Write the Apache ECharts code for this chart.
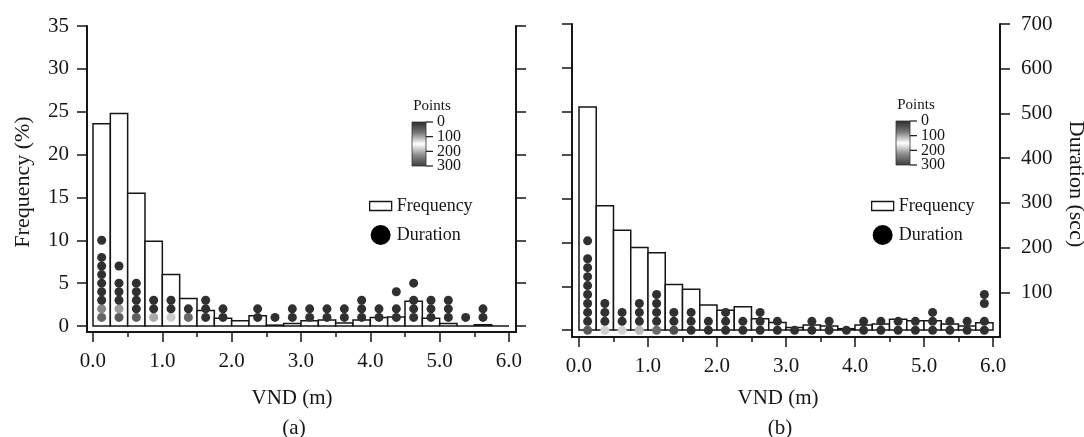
<!DOCTYPE html>
<html>
<head>
<meta charset="utf-8">
<script src="https://cdn.jsdelivr.net/npm/echarts@6/dist/echarts.min.js"></script>
<style>
  html, body { margin: 0; padding: 0; background: #fff; }
  #chart { width: 1084px; height: 437px; }
</style>
</head>
<body>
<div id="chart"></div>
<script>
// VND bins (m), 0.25 m wide
const binEdges = [0, 0.25, 0.5, 0.75, 1, 1.25, 1.5, 1.75, 2, 2.25, 2.5, 2.75, 3,
                  3.25, 3.5, 3.75, 4, 4.25, 4.5, 4.75, 5, 5.25, 5.5, 5.75, 6];

// Frequency (%) per bin
const freqA = [23.6, 24.8, 15.5, 9.9, 6.0, 3.2, 1.8, 0.9, 0.6, 1.2, 0.1, 0.3,
               0.6, 0.7, 0.35, 0.7, 1.0, 1.05, 2.9, 0.9, 0.3, 0, 0.15, 0];
const freqB = [25.5, 14.2, 11.4, 9.45, 8.85, 5.2, 4.65, 2.85, 2.25, 2.65, 1.3, 0.85,
               0.3, 0.57, 0.46, 0.15, 0.57, 0.69, 1.22, 1.07, 1.07, 0.69, 0.46, 0.84];

// Durations (sec) observed in each bin, with their point counts
const durA = [[20,40,60,80,100,120,140,160,200], [20,40,60,80,100,140], [20,40,60,80,100],
              [20,40,60], [20,40,60], [20,40], [20,40,60], [20,40], [], [20,40], [20], [20,40],
              [20,40], [20,40], [20,40], [20,40,60], [20,40], [20,40,80], [20,40,60,100],
              [20,40,60], [20,40,60], [20], [20,40], []];
const ptsA = [[58,84,5,5,5,5,5,5,5], [45,95,5,5,5,5], [50,5,5,5,5],
              [103,5,5], [122,5,5], [58,5], [5,5,5], [5,5], [], [5,5], [5], [5,5],
              [5,5], [5,5], [5,5], [5,5,5], [5,5], [5,5,5], [5,5,5,5],
              [5,5,5], [5,5,5], [5], [5,5], []];

const durB = [[15,35,55,75,95,115,135,155,175,215], [15,35,55,75], [15,35,55],
              [15,35,55,75], [15,35,55,75,95], [15,35,55], [15,35,55], [15,35], [15,35,55],
              [15,35], [15,35,55], [15,35], [15], [15,35], [15,35], [15], [15,35], [15,35],
              [15,35], [15,35], [15,35,55], [15,35], [15,35], [15,35,75,95]];
const ptsB = [[45,5,5,5,5,5,5,5,5,5], [125,5,5,5], [125,5,5],
              [112,5,5,5], [65,5,5,5,5], [35,5,5], [5,5,5], [5,5], [5,5,5],
              [5,5], [5,5,5], [5,5], [5], [5,5], [5,5], [5], [5,5], [5,5],
              [5,5], [5,5], [5,5,5], [5,5], [5,5], [5,5,5,5]];

// Tick labels
const vndTicks = [0, 1, 2, 3, 4, 5, 6];
const vndMinorTicks = [0.5, 1.5, 2.5, 3.5, 4.5, 5.5];
const freqTicks = [0, 5, 10, 15, 20, 25, 30, 35];
const durTicks = [0, 100, 200, 300, 400, 500, 600, 700];
const durLabelTicks = [100, 200, 300, 400, 500, 600, 700];
const pointsTicks = [0, 100, 200, 300];

// Grey ramp for the point counts
const pointsColors = ['#2b2b2b', '#777777', '#ffffff', '#8a8a8a', '#3c3c3c'];

const FONT = 'Liberation Serif';
const INK = '#161616';

function barData(freq) {
  return freq.map((f, i) => [binEdges[i], binEdges[i + 1], f]);
}
function dotData(dur, pts) {
  const out = [];
  dur.forEach((list, i) => {
    const xc = (binEdges[i] + binEdges[i + 1]) / 2;
    list.forEach((d, k) => out.push([xc, d, pts[i][k]]));
  });
  return out;
}
function renderBin(params, api) {
  const p0 = api.coord([api.value(0), api.value(2)]);
  const p1 = api.coord([api.value(1), 0]);
  return {
    type: 'rect',
    shape: { x: p0[0], y: p0[1], width: p1[0] - p0[0], height: p1[1] - p0[1] },
    style: { fill: '#fff', stroke: INK, lineWidth: 1.5 }
  };
}

function xMain(grid, min, max) {
  return {
    gridIndex: grid, type: 'value', min: min, max: max, position: 'bottom',
    axisLine: { onZero: false, lineStyle: { color: INK, width: 2 } },
    axisTick: { customValues: vndTicks, length: 10, lineStyle: { color: INK, width: 1.5 } },
    axisLabel: { customValues: vndTicks, formatter: v => v.toFixed(1), margin: 19,
                 fontFamily: FONT, fontSize: 21, color: INK },
    splitLine: { show: false }
  };
}
function xMinor(grid, min, max) {
  return {
    gridIndex: grid, type: 'value', min: min, max: max, position: 'bottom',
    axisLine: { show: false, onZero: false },
    axisTick: { customValues: vndMinorTicks, length: 5, lineStyle: { color: INK, width: 1.5 } },
    axisLabel: { show: false }, splitLine: { show: false }
  };
}
function yAxisDef(grid, pos, min, max, ticks, labels, margin) {
  return {
    gridIndex: grid, type: 'value', position: pos, min: min, max: max,
    axisLine: { show: true, onZero: false, lineStyle: { color: INK, width: 2 } },
    axisTick: { show: true, customValues: ticks, length: 10, lineStyle: { color: INK, width: 1.5 } },
    axisLabel: labels
      ? { customValues: labels, margin: margin, fontFamily: FONT, fontSize: 21, color: INK }
      : { show: false },
    splitLine: { show: false }
  };
}

function legendDef(left) {
  return {
    orient: 'vertical', left: left, top: 192, itemWidth: 22, itemHeight: 20, itemGap: 10,
    selectedMode: false,
    textStyle: { fontFamily: FONT, fontSize: 18, color: INK },
    data: [
      { name: 'Frequency', icon: 'path://M0,0H22V9H0Z',
        itemStyle: { color: '#fff', borderColor: INK, borderWidth: 1.3 } },
      { name: 'Duration', icon: 'circle', itemStyle: { color: '#000' } }
    ]
  };
}

// Colour bar for the point counts, with its title and tick labels
function colorBar(x, y) {
  const w = 14, h = 44;
  const grad = new echarts.graphic.LinearGradient(0, 0, 0, 1,
    pointsColors.map((c, i) => ({ offset: i / (pointsColors.length - 1), color: c })));
  const els = [
    { type: 'text', x: x + 20, y: y - 16,
      style: { text: 'Points', font: '15px ' + FONT, fill: INK, align: 'center', verticalAlign: 'middle' } },
    { type: 'rect', shape: { x: x, y: y, width: w, height: h },
      style: { fill: grad, stroke: '#333', lineWidth: 0.8 } }
  ];
  pointsTicks.forEach(t => {
    const ty = y + (t / 300) * h;
    els.push({ type: 'line', shape: { x1: x + w, y1: ty, x2: x + w + 7, y2: ty },
               style: { stroke: INK, lineWidth: 1.2 } });
    els.push({ type: 'text', x: x + w + 11, y: ty,
               style: { text: String(t), font: '16px ' + FONT, fill: INK,
                        align: 'left', verticalAlign: 'middle' } });
  });
  return els;
}
function label(text, x, y, rot, size) {
  return { type: 'text', x: x, y: y, rotation: rot || 0,
           style: { text: text, font: (size || 21) + 'px ' + FONT, fill: INK,
                    align: 'center', verticalAlign: 'middle' } };
}

const chart = echarts.init(document.getElementById('chart'), null, { renderer: 'canvas' });
chart.setOption({
  animation: false,
  backgroundColor: '#fff',
  grid: [
    { left: 87, top: 26, width: 429, height: 306 },
    { left: 572, top: 24, width: 428, height: 313 }
  ],
  xAxis: [
    xMain(0, -0.0865, 6.101), xMinor(0, -0.0865, 6.101),
    xMain(1, -0.1014, 6.1014), xMinor(1, -0.1014, 6.1014)
  ],
  yAxis: [
    yAxisDef(0, 'left', -0.7, 35, freqTicks, freqTicks, 18),
    yAxisDef(0, 'right', -14, 700, durTicks, null),
    yAxisDef(1, 'left', -0.8, 35, freqTicks, null),
    yAxisDef(1, 'right', 0, 700, durLabelTicks, durLabelTicks, 21)
  ],
  visualMap: {
    type: 'continuous', show: false, min: 0, max: 300, dimension: 2,
    seriesIndex: [1, 3], inRange: { color: pointsColors }
  },
  legend: [legendDef(364), legendDef(866)],
  series: [
    { name: 'Frequency', type: 'custom', xAxisIndex: 0, yAxisIndex: 0,
      renderItem: renderBin, data: barData(freqA), z: 2 },
    { name: 'Duration', type: 'scatter', xAxisIndex: 0, yAxisIndex: 1,
      symbolSize: 9, itemStyle: { opacity: 1 }, data: dotData(durA, ptsA), z: 3 },
    { name: 'Frequency', type: 'custom', xAxisIndex: 2, yAxisIndex: 2,
      renderItem: renderBin, data: barData(freqB), z: 2 },
    { name: 'Duration', type: 'scatter', xAxisIndex: 2, yAxisIndex: 3,
      symbolSize: 9, itemStyle: { opacity: 1 }, data: dotData(durB, ptsB), z: 3 }
  ],
  graphic: [
    ...colorBar(412, 122),
    ...colorBar(896, 121),
    label('Frequency (%)', 23, 182, Math.PI / 2, 22),
    label('Duration (scc)', 1076, 184, -Math.PI / 2, 22),
    label('VND (m)', 292, 398),
    label('VND (m)', 778, 398),
    label('(a)', 294, 428),
    label('(b)', 780, 428)
  ]
});
</script>
</body>
</html>
